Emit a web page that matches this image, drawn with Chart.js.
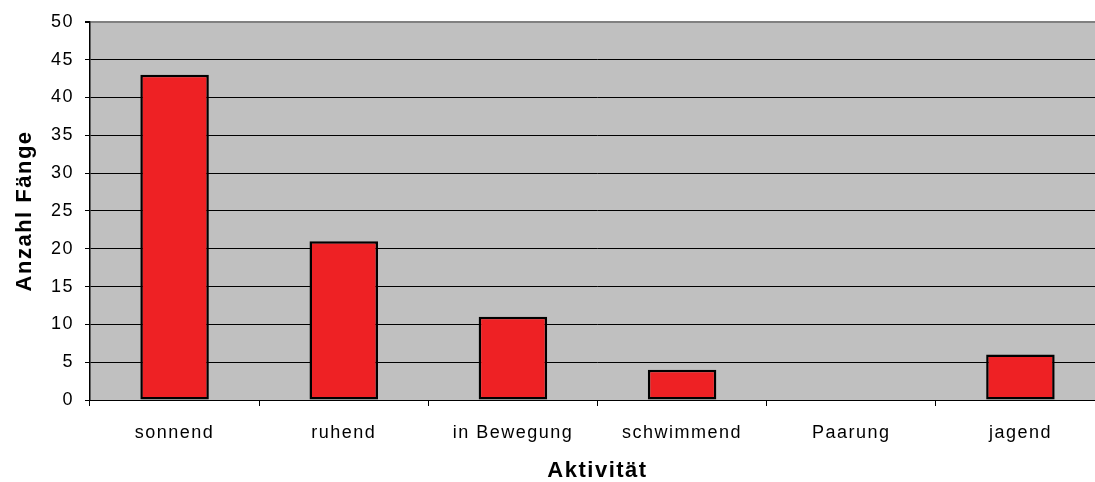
<!DOCTYPE html>
<html lang="de">
<head>
<meta charset="utf-8">
<title>Anzahl Fänge nach Aktivität</title>
<script src="https://cdn.jsdelivr.net/npm/chart.js@4/dist/chart.umd.min.js"></script>
<style>
    html, body { margin: 0; padding: 0; background: #fff; overflow: hidden; }
    #chart { display: block; }
</style>
</head>
<body>
<!-- the plot runs a little past the right edge of the window -->
<canvas id="chart" width="1105" height="482"></canvas>
<script>
// Fänge je Aktivität
const activities = ['sonnend', 'ruhend', 'in Bewegung', 'schwimmend', 'Paarung', 'jagend'];
const catches = [43, 21, 11, 4, 0, 6];
const yTicks = [0, 5, 10, 15, 20, 25, 30, 35, 40, 45, 50];

Chart.defaults.font.family = "'Liberation Sans', Arial, sans-serif";
Chart.defaults.color = '#000';

// grey plot background + slightly wider lettering
const plotBackground = {
    id: 'plotBackground',
    beforeUpdate(chart) {
        chart.ctx.letterSpacing = '1.5px';
    },
    beforeDraw(chart) {
        const { ctx, chartArea } = chart;
        ctx.letterSpacing = '1.5px';
        ctx.save();
        ctx.fillStyle = '#fff';
        ctx.fillRect(0, 0, chart.width, chart.height);
        ctx.fillStyle = '#c0c0c0';
        ctx.fillRect(chartArea.left, chartArea.top, chartArea.right - chartArea.left, chartArea.bottom - chartArea.top);
        ctx.restore();
    }
};

const ctx = document.getElementById('chart').getContext('2d');
const chart = new Chart(ctx, {
    type: 'bar',
    data: {
        labels: activities,
        datasets: [{
            data: catches,
            backgroundColor: '#ee2124',
            borderColor: '#000',
            borderWidth: 2.5,
            borderSkipped: false,
            barPercentage: 0.405,
            categoryPercentage: 1
        }]
    },
    options: {
        responsive: false,
        animation: false,
        layout: { padding: { top: 21, right: 0, bottom: 0, left: 0 } },
        plugins: {
            legend: { display: false },
            tooltip: { enabled: false }
        },
        scales: {
            x: {
                offset: true,
                afterFit(scale) { scale.height = 82; },
                grid: {
                    offset: true,
                    drawOnChartArea: false,
                    tickLength: 6,
                    tickColor: '#000'
                },
                border: { color: '#000', width: 1 },
                ticks: {
                    font: { size: 18 },
                    padding: 16,
                    maxRotation: 0,
                    autoSkip: false
                },
                title: {
                    display: true,
                    text: 'Aktivität',
                    font: { size: 22, weight: 'bold', lineHeight: 1 },
                    padding: { top: 0, bottom: 0 }
                }
            },
            y: {
                min: 0,
                max: 50,
                afterFit(scale) { scale.width = 90; },
                afterBuildTicks(scale) {
                    scale.ticks = yTicks.map(v => ({ value: v }));
                },
                grid: {
                    color: c => (c.tick && c.tick.value === 50 ? '#808080' : '#000'),
                    lineWidth: c => (c.tick && c.tick.value === 50 ? 2 : 1),
                    tickLength: 5,
                    tickColor: '#000'
                },
                border: { color: '#000', width: 1.5 },
                ticks: {
                    font: { size: 18 },
                    padding: 11
                },
                title: {
                    display: true,
                    text: 'Anzahl Fänge',
                    font: { size: 22, weight: 'bold', lineHeight: 1 },
                    padding: { top: 14, bottom: 0 }
                }
            }
        }
    },
    plugins: [plotBackground]
});
</script>
</body>
</html>
